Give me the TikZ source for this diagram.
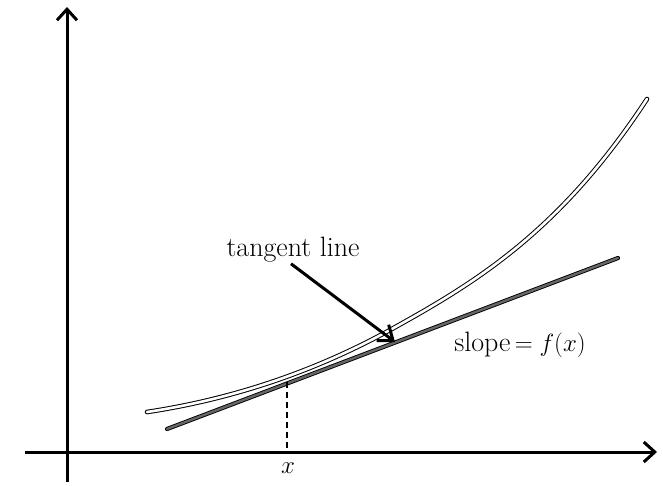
\documentclass[tikz,border=0pt]{standalone}
\usepackage{fontspec}
\usetikzlibrary{arrows.meta}
\begin{document}
\begin{tikzpicture}[x = 1pt, y = -1pt,
    axis/.style = {line width=3pt, -{Straight Barb[length=11pt, width=20pt]}},
    curve/.style = {draw=black, line width=1pt, double=white, double distance=2.6pt, line cap=round},
    tangent/.style = {draw=black, line width=0.9pt, double=black!60, double distance=2.4pt, line cap=round},
    pointer/.style = {line width=3pt, -{Straight Barb[length=13pt, width=20pt]}},
    lab/.style = {font=\fontsize{28}{32}\selectfont, inner sep=1pt}]

    \useasboundingbox (0,0) rectangle (663,485);

    % Assi
    \coordinate (xs) at (25,452);
    \coordinate (xe) at (657,452);
    \coordinate (ys) at (67,482);
    \coordinate (ye) at (67,7);
    \draw[axis] (xs) -- (xe);
    \draw[axis] (ys) -- (ye);

    % Funzione convessa
    \coordinate (c0) at (147,412);
    \coordinate (c1) at (390,330);
    \coordinate (c2) at (647,99);
    \draw[curve] (c0) .. controls (227,400) and (310,374) .. (c1)
                      .. controls (475,283) and (560,232) .. (c2);

    % Retta tangente
    \coordinate (ta) at (167,429);
    \coordinate (tb) at (618,258);
    \draw[tangent] (ta) -- (tb);

    % Punto di tangenza e proiezione
    \coordinate (P) at (287,382);
    \coordinate (Px) at (287,452);
    \draw[line width=1.8pt, dash pattern=on 6pt off 4pt] (P) -- (Px);
    \node[lab] (xlab) at (288,468) {$x$};

    % Etichette
    \node[lab] (tlab) at (293,250) {tangent line};
    \coordinate (tip) at (395,342);
    \draw[pointer] ([xshift=-2pt]tlab.south) -- (tip);
    \node[lab] (slab) at (520,345) {slope$\,=f(x)$};

\end{tikzpicture}
\end{document}
